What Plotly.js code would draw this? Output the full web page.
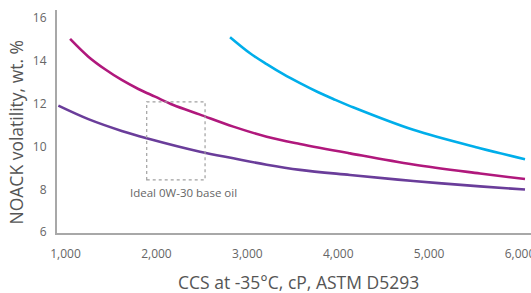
<!DOCTYPE html>
<html>
<head>
<meta charset="utf-8">
<script src="https://cdn.plot.ly/plotly-3.0.1.min.js"></script>
<style>html,body{margin:0;padding:0;background:#fff;}#chart{width:531px;height:293px;}</style>
</head>
<body>
<div id="chart"></div>
<script>
// Curve data (CCS cP, NOACK wt.%)
const purpleX = [921, 1251, 1618, 1893, 2480, 2846, 3213, 3580, 4130, 4826, 5560, 6055];
const purpleY = [11.91, 11.28, 10.73, 10.39, 9.76, 9.45, 9.15, 8.91, 8.67, 8.39, 8.14, 7.99];

const magentaX = [1050, 1251, 1435, 1618, 1801, 1985, 2186, 2480, 2846, 3213, 3580, 4130, 4826, 5560, 6055];
const magentaY = [15.03, 14.20, 13.61, 13.11, 12.69, 12.33, 11.94, 11.49, 10.93, 10.46, 10.12, 9.68, 9.16, 8.74, 8.48];

const cyanX = [2810, 3030, 3213, 3396, 3580, 3763, 3946, 4130, 4826, 5560, 6055];
const cyanY = [15.11, 14.36, 13.85, 13.38, 12.96, 12.57, 12.22, 11.89, 10.78, 9.92, 9.41];

// Ideal region box and label
const boxX = [1893, 2535];
const boxY = [8.44, 12.09];
const boxLabel = "Ideal 0W-30 base oil";
const boxLabelPos = [2300, 7.85];

const xTicks = [1000, 2000, 3000, 4000, 5000, 6000];
const xTickText = ["1,000", "2,000", "3,000", "4,000", "5,000", "6,000"];
const yTicks = [6, 8, 10, 12, 14, 16];

const xTitle = 'CCS at -35°C, cP, ASTM D5293';
const yTitle = 'NOACK volatility, wt. %';

const lineW = 2.6;
const traces = [
  {x: purpleX, y: purpleY, mode: 'lines', line: {color: '#6a3d9a', width: lineW, shape: 'spline', smoothing: 1}},
  {x: magentaX, y: magentaY, mode: 'lines', line: {color: '#b0187c', width: lineW, shape: 'spline', smoothing: 1}},
  {x: cyanX, y: cyanY, mode: 'lines', line: {color: '#00aeea', width: lineW, shape: 'spline', smoothing: 1}}
];

const fontFam = '"Open Sans", "DejaVu Sans", sans-serif';
const layout = {
  width: 531, height: 293,
  margin: {l: 57, r: 0, t: 10, b: 60},
  showlegend: false,
  paper_bgcolor: '#fff', plot_bgcolor: '#fff',
  font: {family: fontFam, color: '#666', size: 12},
  xaxis: {
    range: [906, 6121],
    tickvals: xTicks, ticktext: xTickText,
    showgrid: false, zeroline: false,
    showline: true, linecolor: '#a8a8a8', linewidth: 2,
    ticks: '', ticklabelstandoff: 9, ticklabeloverflow: 'allow',
    tickfont: {size: 12, color: '#666'}
  },
  yaxis: {
    range: [5.96, 16.38],
    tickvals: yTicks,
    showgrid: false, zeroline: false,
    showline: true, linecolor: '#a8a8a8', linewidth: 2,
    ticks: '', ticklabelstandoff: 6,
    tickfont: {size: 12, color: '#666'}
  },
  shapes: [{
    type: 'rect', xref: 'x', yref: 'y',
    x0: boxX[0], x1: boxX[1], y0: boxY[0], y1: boxY[1],
    line: {color: '#a0a0a0', width: 1.2, dash: 'dot'}
  }],
  annotations: [
    {
      x: boxLabelPos[0], y: boxLabelPos[1], xref: 'x', yref: 'y',
      text: boxLabel, showarrow: false,
      font: {size: 11.5, color: '#666'}
    },
    {
      x: 0.5105, y: 0, xref: 'paper', yref: 'paper',
      xanchor: 'center', yanchor: 'middle', yshift: -49,
      text: xTitle, showarrow: false,
      font: {size: 17.5, color: '#555'}
    },
    {
      x: 0, y: 0.4507, xref: 'paper', yref: 'paper',
      xanchor: 'center', yanchor: 'middle', xshift: -41, textangle: -90,
      text: yTitle, showarrow: false,
      font: {size: 17.5, color: '#555'}
    }
  ]
};

Plotly.newPlot('chart', traces, layout, {staticPlot: true, displayModeBar: false});
</script>
</body>
</html>
